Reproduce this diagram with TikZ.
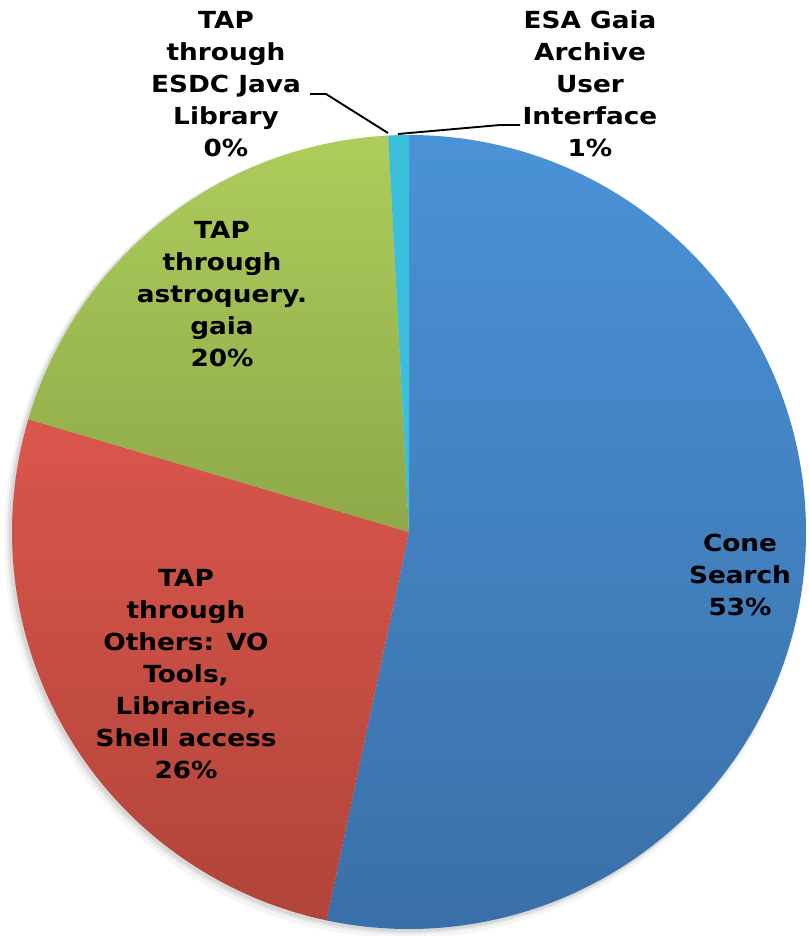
\documentclass[tikz,border=0pt]{standalone}
\usepackage{fontspec}
\setmainfont{DejaVu Sans}[FakeStretch=1.12]
\usepackage{tikz}
\definecolor{conetop}{HTML}{4A92D7}
\definecolor{conebot}{HTML}{3A6FA8}
\definecolor{othtop}{HTML}{DA564C}
\definecolor{othbot}{HTML}{B1443A}
\definecolor{astrtop}{HTML}{AECD5B}
\definecolor{astrbot}{HTML}{8DA849}
\definecolor{uifill}{HTML}{3CBFDC}
\definecolor{labeltext}{HTML}{000000}
\tikzset{
  slicelbl/.style={align=center, font=\fontsize{23.5}{32}\selectfont\bfseries, text=labeltext, inner sep=0pt},
  leader/.style={draw=black, line width=1.9pt},
  pieshadow/.style={fill=black, draw=none},
}

\begin{document}
\begin{tikzpicture}[x=1pt, y=-1pt]
  % --- canvas ---
  \useasboundingbox (0,0) rectangle (808,936);
  \coordinate (ctr) at (409,532);

  % --- soft shadow ---
  \fill[pieshadow, opacity=0.04] (405,537) circle (401);
  \fill[pieshadow, opacity=0.06] (406,535) circle (399);
  \fill[pieshadow, opacity=0.07] (407,534) circle (398);

  % --- slices (clockwise from top) ---
  \shade[top color=conetop, bottom color=conebot]
    (ctr) -- ([shift={(ctr)}]-90:397) arc[start angle=-90, end angle=102, radius=397] -- cycle;
  \shade[top color=othtop, bottom color=othbot]
    (ctr) -- ([shift={(ctr)}]102:397) arc[start angle=102, end angle=196.5, radius=397] -- cycle;
  \shade[top color=astrtop, bottom color=astrbot]
    (ctr) -- ([shift={(ctr)}]196.5:397) arc[start angle=196.5, end angle=267, radius=397] -- cycle;
  \fill[uifill]
    (ctr) -- ([shift={(ctr)}]267:397) arc[start angle=267, end angle=270, radius=397] -- cycle;

  % --- labels ---
  \node[slicelbl] (cone) at (740,575) {Cone\\Search\\53\%};
  \node[slicelbl] (oth)  at (186,674) {TAP\\through\\Others: VO\\Tools,\\Libraries,\\Shell access\\26\%};
  \node[slicelbl] (astr) at (222,294) {TAP\\through\\astroquery.\\gaia\\20\%};
  \node[slicelbl] (java) at (226,84)  {TAP\\through\\ESDC Java\\Library\\0\%};
  \node[slicelbl] (ui)   at (590,84)  {ESA Gaia\\Archive\\User\\Interface\\1\%};

  % --- leader lines ---
  \coordinate (javaend) at (310,94);
  \coordinate (javatip) at (388,133);
  \coordinate (uiend)   at (520,125);
  \coordinate (uitip)   at (398,134);
  \draw[leader] (javaend) -- (326,94) -- (javatip);
  \draw[leader] (uitip) -- (500,125) -- (uiend);
\end{tikzpicture}
\end{document}
